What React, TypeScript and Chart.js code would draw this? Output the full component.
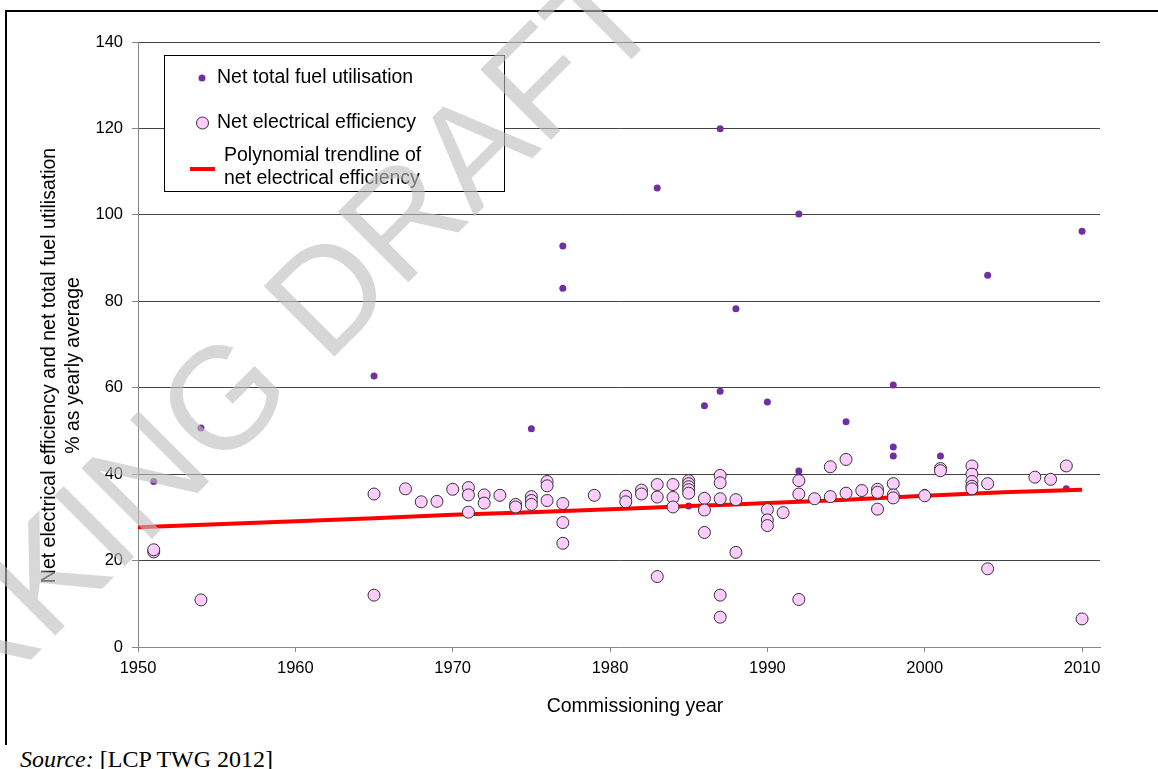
import React, { useEffect, useRef } from "react";
import { Chart, registerables } from "chart.js";

Chart.register(...registerables);

// ---- Data ----
const effYears: number[] = [
  1951, 1951, 1954, 1965, 1965, 1967, 1968, 1969, 1970, 1971, 1971, 1971, 1972, 1972, 1973,
  1974, 1974, 1975, 1975, 1975, 1976, 1976, 1976, 1977, 1977, 1977, 1979, 1981, 1981, 1982,
  1982, 1983, 1983, 1983, 1984, 1984, 1984, 1985, 1985, 1985, 1985, 1985, 1986, 1986, 1986,
  1987, 1987, 1987, 1987, 1987, 1988, 1988, 1990, 1990, 1990, 1991, 1992, 1992, 1992, 1993,
  1994, 1994, 1995, 1995, 1996, 1997, 1997, 1997, 1998, 1998, 1998, 2000, 2001, 2001, 2003,
  2003, 2003, 2003, 2003, 2004, 2004, 2007, 2008, 2009, 2010,
];
const effValues: number[] = [
  22.0, 22.5, 10.9, 35.4, 12.0, 36.6, 33.6, 33.7, 36.5, 36.9, 35.2, 31.2, 35.2, 33.3, 35.1,
  33.0, 32.4, 34.8, 33.9, 33.0, 38.3, 37.3, 33.9, 33.2, 28.8, 24.0, 35.1, 34.9, 33.6, 36.3,
  35.4, 37.6, 34.7, 16.3, 37.6, 34.6, 32.4, 38.5, 37.8, 37.1, 36.4, 35.6, 34.4, 31.7, 26.5,
  39.7, 38.0, 34.3, 12.0, 6.9, 34.1, 21.9, 31.8, 29.4, 28.1, 31.1, 38.5, 35.4, 11.0, 34.3,
  41.7, 34.8, 43.4, 35.6, 36.2, 36.5, 35.8, 31.9, 37.8, 35.2, 34.5, 35.0, 41.3, 40.8, 41.9,
  40.0, 38.3, 37.2, 36.6, 37.8, 18.1, 39.3, 38.8, 41.9, 6.5,
];

const fuelYears: number[] = [
  1951, 1954, 1965, 1975, 1977, 1977, 1983, 1985, 1986, 1987, 1987, 1988, 1990, 1992, 1992,
  1995, 1998, 1998, 1998, 2000, 2001, 2004, 2009, 2010,
];
const fuelValues: number[] = [
  38.3, 50.7, 62.7, 50.5, 92.8, 83.0, 106.2, 32.6, 55.8, 119.9, 59.2, 78.3, 56.7, 100.2, 40.7,
  52.1, 60.6, 46.3, 44.2, 35.8, 44.2, 86.0, 36.6, 96.2,
];

const trendYears: number[] = [1950, 1955, 1960, 1965, 1970, 1975, 1980, 1985, 1990, 1995, 2000, 2005, 2010];
const trendValues: number[] = [27.7, 28.4, 29.1, 29.8, 30.6, 31.2, 31.9, 32.6, 33.3, 34.1, 35.0, 35.8, 36.4];

const xTickValues: number[] = [1950, 1960, 1970, 1980, 1990, 2000, 2010];
const yTickValues: number[] = [0, 20, 40, 60, 80, 100, 120, 140];

const fuelLabel = "Net total fuel utilisation";
const effLabel = "Net electrical efficiency";
const trendLabel = ["Polynomial trendline of", "net electrical efficiency"];
const xTitle = "Commissioning year";
const yTitle = ["Net electrical efficiency and net total fuel utilisation", "% as yearly average"];
const watermark = "WORKING DRAFT";

const SANS = '"Liberation Sans", Arial, sans-serif';
const PURPLE = "#7030a0";
const PINK = "#ffccff";
const RED = "#ff0000";

const W = 1158;
const H = 769;

const overlayPlugin = {
  id: "overlay",
  afterDatasetsDraw(chart: any) {
    const { ctx, chartArea } = chart;
    const L = chartArea.left;
    const T = chartArea.top;
    ctx.save();
    // legend box
    const bx = L + 26, by = T + 13, bw = 341, bh = 137;
    ctx.fillStyle = "#ffffff";
    ctx.fillRect(bx, by, bw, bh);
    ctx.strokeStyle = "#000";
    ctx.lineWidth = 1;
    ctx.strokeRect(bx + 0.5, by + 0.5, bw - 1, bh - 1);
    ctx.font = `19.5px ${SANS}`;
    ctx.fillStyle = "#000";
    ctx.textBaseline = "middle";
    ctx.textAlign = "left";
    // fuel
    ctx.beginPath();
    ctx.arc(bx + 38, by + 23, 3.5, 0, Math.PI * 2);
    ctx.fillStyle = PURPLE;
    ctx.fill();
    ctx.fillStyle = "#000";
    ctx.fillText(fuelLabel, bx + 53, by + 23);
    // eff
    ctx.beginPath();
    ctx.arc(bx + 38.5, by + 68, 6, 0, Math.PI * 2);
    ctx.fillStyle = PINK;
    ctx.fill();
    ctx.strokeStyle = "#333";
    ctx.stroke();
    ctx.fillStyle = "#000";
    ctx.fillText(effLabel, bx + 53, by + 68);
    // trend
    ctx.beginPath();
    ctx.moveTo(bx + 26, by + 114);
    ctx.lineTo(bx + 51, by + 114);
    ctx.strokeStyle = RED;
    ctx.lineWidth = 4;
    ctx.stroke();
    ctx.fillStyle = "#000";
    ctx.fillText(trendLabel[0], bx + 60, by + 101);
    ctx.fillText(trendLabel[1], bx + 60, by + 124);
    ctx.restore();
  },
  afterDraw(chart: any) {
    const { ctx, chartArea } = chart;
    ctx.save();
    ctx.fillStyle = "#000";
    ctx.font = `19.5px ${SANS}`;
    ctx.textBaseline = "middle";
    ctx.textAlign = "center";
    // x title
    ctx.fillText(xTitle, (chartArea.left + chartArea.right) / 2 + 16, chartArea.bottom + 60);
    // y title
    const cy = (chartArea.top + chartArea.bottom) / 2 + 21;
    ctx.save();
    ctx.translate(50, cy);
    ctx.rotate(-Math.PI / 2);
    ctx.fillText(yTitle[0], 0, 0);
    ctx.fillText(yTitle[1], 0, 24);
    ctx.restore();
    // watermark
    ctx.save();
    ctx.translate(195, 422);
    ctx.rotate((-45 * Math.PI) / 180);
    ctx.font = `145px ${SANS}`;
    ctx.textAlign = "center";
    ctx.textBaseline = "alphabetic";
    ctx.fillStyle = "rgba(190,190,190,0.62)";
    ctx.fillText(watermark, 0, 0.36 * 145);
    ctx.restore();
    ctx.restore();
  },
};

function ChartView() {
  const ref = useRef<HTMLCanvasElement | null>(null);
  useEffect(() => {
    if (!ref.current) return;
    const effData = effYears.map((x, i) => ({ x, y: effValues[i] }));
    const fuelData = fuelYears.map((x, i) => ({ x, y: fuelValues[i] }));
    const trendData = trendYears.map((x, i) => ({ x, y: trendValues[i] }));
    const chart = new Chart(ref.current, {
      type: "scatter",
      data: {
        datasets: [
          {
            label: effLabel,
            data: effData,
            backgroundColor: PINK,
            borderColor: "#333333",
            borderWidth: 1,
            pointRadius: 6,
            order: 0,
          } as any,
          {
            type: "line",
            label: trendLabel.join(" "),
            data: trendData,
            borderColor: RED,
            borderWidth: 4,
            pointRadius: 0,
            showLine: true,
            fill: false,
            tension: 0.3,
            order: 1,
          } as any,
          {
            label: fuelLabel,
            data: fuelData,
            backgroundColor: PURPLE,
            borderColor: PURPLE,
            borderWidth: 0,
            pointRadius: 3.5,
            order: 2,
          } as any,
        ],
      },
      options: {
        responsive: false,
        animation: false,
        events: [],
        layout: { padding: { left: 0, right: 58, top: 42, bottom: 82 } },
        plugins: { legend: { display: false }, tooltip: { enabled: false } },
        scales: {
          x: {
            type: "linear",
            min: 1950,
            max: 2011.14,
            afterBuildTicks: (s: any) => {
              s.ticks = xTickValues.map((v) => ({ value: v }));
            },
            afterFit: (s: any) => {
              s.height = 40;
            },
            ticks: {
              callback: (v: any) => String(v),
              color: "#000",
              font: { family: SANS, size: 16.5 },
              padding: 7,
              maxRotation: 0,
            },
            grid: { drawOnChartArea: false, drawTicks: true, tickLength: 5, color: "#888888" },
            border: { color: "#888888", width: 1 },
          },
          y: {
            min: 0,
            max: 140,
            afterBuildTicks: (s: any) => {
              s.ticks = yTickValues.map((v) => ({ value: v }));
            },
            afterFit: (s: any) => {
              s.width = 138;
            },
            ticks: {
              color: "#000",
              font: { family: SANS, size: 16.5 },
              padding: 9,
            },
            grid: {
              color: (c: any) => (c.tick && c.tick.value === 0 ? "rgba(0,0,0,0)" : "#444444"),
              tickColor: "#888888",
              tickLength: 6,
              lineWidth: 1,
            },
            border: { color: "#888888", width: 1 },
          },
        },
      },
      plugins: [overlayPlugin],
    });
    return () => chart.destroy();
  }, []);
  return <canvas ref={ref} width={W} height={H} style={{ position: "absolute", left: 0, top: 0 }} />;
}

export default function App() {
  return (
    <div style={{ position: "absolute", left: 0, top: 0, width: W, height: H, overflow: "hidden", background: "#fff" }}>
      <div style={{ position: "absolute", left: 5, top: 10, width: W - 5, height: 2, background: "#000" }} />
      <div style={{ position: "absolute", left: 5, top: 10, width: 2, height: 735, background: "#000" }} />
      <div
        style={{
          position: "absolute",
          left: 20,
          top: 747,
          fontFamily: '"Liberation Serif", "Times New Roman", serif',
          fontSize: 24,
          lineHeight: "24px",
          whiteSpace: "nowrap",
          color: "#000",
        }}
      >
        <i>Source:</i> [LCP TWG 2012]
      </div>
      <ChartView />
    </div>
  );
}
